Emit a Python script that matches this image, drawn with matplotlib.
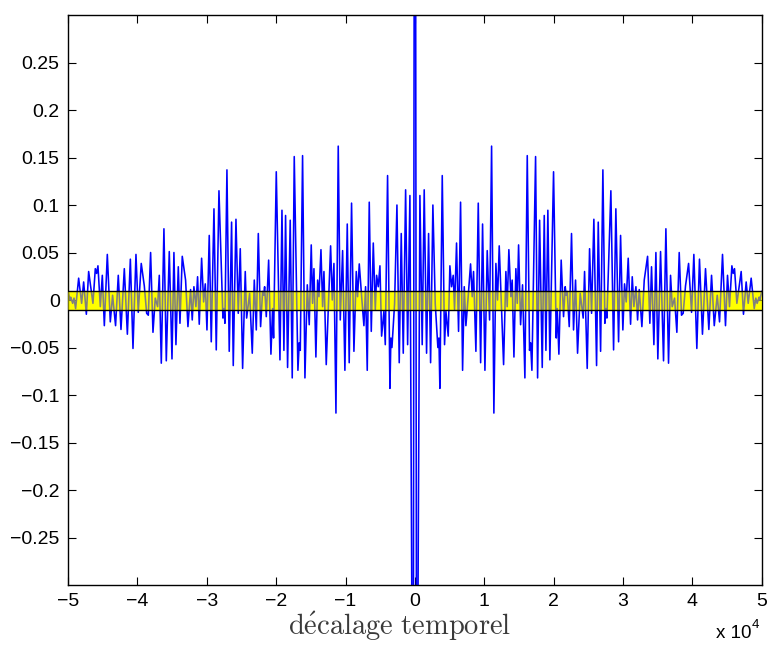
import numpy as np
import matplotlib
matplotlib.use("Agg")
from matplotlib import pyplot as plt

plt.rcParams['font.family'] = ['Liberation Sans', 'DejaVu Sans']
plt.rcParams['mathtext.fontset'] = 'cm'

# local extrema of the autocorrelation, positive lags only (curve is symmetric)
lags = [0, 260, 720, 1050, 1340, 1680, 1970, 2260, 2590, 2930, 3310, 3460, 3600,
        3940, 4270, 4470, 4800, 5040, 5280, 5520, 5710, 6000, 6290, 6580, 6870,
        7110, 7350, 7640, 8020, 8260, 8450, 8790, 9130, 9470, 9750, 10090, 10420,
        10760, 11050, 11380, 11670, 11910, 12150, 12780, 13110, 13300, 13540,
        13830, 14020, 14270, 14550, 14750, 14940, 15230, 15510, 15850, 16190,
        16520, 16670, 16860, 17390, 17680, 17970, 18350, 18640, 18880, 19160,
        19450, 19980, 20370, 20510, 20750, 21080, 21420, 21660, 21800, 21950,
        22240, 22570, 22860, 23150, 23440, 23820, 24250, 24450, 24830, 25170,
        25460, 25790, 26180, 26420, 26760, 27090, 27380, 27520, 27670, 28240,
        28630, 28960, 29350, 29640, 29970, 30210, 30450, 30740, 31080, 31320,
        31560, 31850, 32090, 32330, 32710, 33050, 33530, 33860, 34100, 34440,
        34730, 35010, 35400, 35830, 36170, 36550, 36840, 37080, 37420, 37750,
        38090, 38420, 38660, 39000, 39440, 39870, 40200, 40630, 41010, 41440,
        41880, 42360, 42750, 43140, 43570, 43900, 44330, 44760, 45050, 45340,
        45680, 45870, 46060, 46400, 47020, 47350, 47740, 48030, 48460, 48900,
        49130, 49320, 49610, 49700, 50000]
corr = [1.0, -0.6, 0.11, -0.047, 0.116, -0.056, 0.07, -0.066, 0.10, -0.004, -0.05, -0.04, -0.093,
        0.131, -0.047, -0.012, -0.038, 0.036, 0.014, 0.026, -0.01, 0.06, -0.033, 0.103, -0.074,
        0.014, -0.027, 0.0, 0.038, 0.0035, 0.03, -0.054, 0.102, -0.066, 0.08, -0.074, 0.052,
        -0.021, 0.162, -0.119, 0.0385, 0.0, 0.057, -0.068, 0.03, -0.007, 0.053,
        0.0035, 0.021, -0.06, 0.033, -0.0035, 0.058, -0.026, 0.016, -0.082, 0.152,
        -0.053, -0.045, -0.074, 0.151, -0.082, 0.084, -0.071, 0.089, -0.053, 0.0945,
        -0.063, 0.135, -0.04, -0.009, -0.057, 0.042, -0.0175, 0.014, 0.005, 0.009,
        -0.028, 0.07, -0.0315, 0.021, -0.056, 0.007, -0.019, 0.03, -0.072, 0.054,
        -0.014, 0.085, -0.069, 0.082, -0.054, 0.137, -0.0245, -0.009, -0.019, 0.115,
        -0.0525, 0.096, -0.044, 0.068, -0.0315, 0.017, -0.002, 0.044, -0.0255, 0.0245,
        -0.007, 0.014, -0.021, 0.011, -0.028, 0.021, 0.046, -0.0245, 0.035, -0.047,
        0.05, -0.062, 0.051, -0.064, 0.075, -0.0665, 0.026, -0.007, 0.002, -0.034,
        0.05, -0.016, -0.014, 0.015, 0.0385, -0.013, 0.048, -0.051, 0.043, -0.036,
        0.033, -0.031, 0.026, -0.027, 0.005, -0.023, 0.048, -0.027, 0.026, -0.007,
        0.036, 0.028, 0.033, -0.0035, 0.03, -0.015, 0.019, -0.0035, 0.023, -0.009,
        0.002, -0.0035, 0.003, 0.0, 0.009]

threshold = 0.01

xticks = [-5e4, -4e4, -3e4, -2e4, -1e4, 0, 1e4, 2e4, 3e4, 4e4, 5e4]
xlabels = ['\u22125', '\u22124', '\u22123', '\u22122', '\u22121', '0', '1', '2', '3', '4', '5']
yticks = [-0.25, -0.2, -0.15, -0.1, -0.05, 0, 0.05, 0.1, 0.15, 0.2, 0.25]
ylabels = ['\u22120.25', '\u22120.2', '\u22120.15', '\u22120.1', '\u22120.05', '0',
           '0.05', '0.1', '0.15', '0.2', '0.25']

# full symmetric curve
lag_pos = np.array(lags, dtype=float)
val_pos = np.array(corr)
x = np.concatenate([-lag_pos[:0:-1], lag_pos])
y = np.concatenate([val_pos[:0:-1], val_pos])

fig = plt.figure(figsize=(7.68, 6.47), dpi=100)
ax = fig.add_axes([0.0885, 0.0958, 0.9035, 0.881])

# yellow band under and (half transparent) over the curve
ax.axhspan(-threshold, threshold, color=(1, 1, 0), lw=0, zorder=1)
ax.plot(x, y, color='blue', lw=1.15, zorder=2)
ax.axhspan(-threshold, threshold, color=(1, 1, 0), alpha=0.5, lw=0, zorder=3)
ax.axhline(threshold, color='black', lw=1.0, zorder=4)
ax.axhline(-threshold, color='black', lw=1.0, zorder=4)

ax.set_xlim(-5e4, 5e4)
ax.set_ylim(-0.3, 0.3)
ax.set_xticks(xticks)
ax.set_xticklabels(xlabels)
ax.set_yticks(yticks)
ax.set_yticklabels(ylabels)
ax.tick_params(direction='in', length=6, width=0.8, labelsize=14,
               top=True, right=True, pad=6)
for s in ax.spines.values():
    s.set_linewidth(1.0)

fig.text(400 / 768, 1 - 626 / 647, r'$\mathrm{d\acute{e}calage\ temporel}$',
         fontsize=20.5, ha='center', va='center', color='#3a3a3a')
fig.text(751 / 768, 1 - 634 / 647, 'x 10', fontsize=13.5, ha='right', va='center')
fig.text(752 / 768, 1 - 625 / 647, '4', fontsize=9.5, ha='left', va='center')

fig.savefig('out.png', dpi=100)
